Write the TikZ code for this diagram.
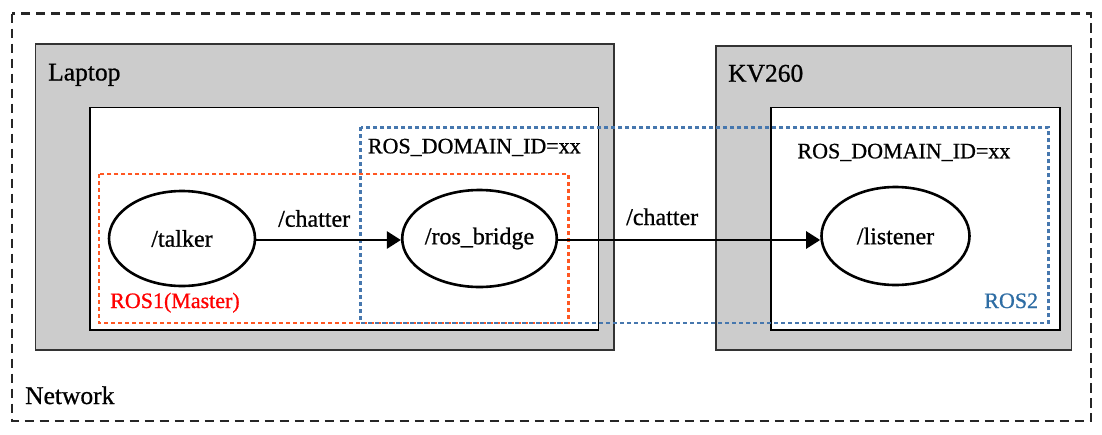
\documentclass[tikz,border=0pt]{standalone}
\usepackage{fontspec}
\setmainfont{Liberation Serif}[FakeBold=0.8]
\usetikzlibrary{shapes.geometric,arrows.meta}
\definecolor{boxgray}{HTML}{CCCCCC}
\definecolor{rosred}{HTML}{FF5722}
\definecolor{rosblue}{HTML}{4677AE}
\definecolor{ros2text}{HTML}{2E6DA4}
\begin{document}
\begin{tikzpicture}[x=1pt,y=-1pt,
  hostbox/.style={fill=boxgray,draw=black!80,line width=1.3pt},
  innerbox/.style={fill=white,draw=black,line width=1.5pt},
  netbox/.style={draw=black!85,line width=2.6pt,dash pattern=on 9.5pt off 5.5pt},
  redzone/.style={draw=rosred,line width=2.6pt,dash pattern=on 4pt off 3pt},
  bluezone/.style={draw=rosblue,line width=2.6pt,dash pattern=on 4pt off 3pt},
  rosnode/.style={ellipse,draw=black,fill=white,line width=2.6pt,inner sep=0pt,
     font=\fontsize{24}{28}\selectfont},
  bigtxt/.style={anchor=base west,inner sep=0pt,font=\fontsize{25.5}{30}\selectfont},
  midtxt/.style={anchor=base west,inner sep=0pt,font=\fontsize{22}{26}\selectfont},
  edgetxt/.style={anchor=base west,inner sep=0pt,font=\fontsize{24}{28}\selectfont},
  flow/.style={line width=2.6pt,-{Triangle[length=14pt,width=17pt]}}
]
\useasboundingbox (0,0) rectangle (1102,434);
% network
\draw[netbox] (12,13.5) rectangle (1091,421);
% hosts
\draw[hostbox] (35.5,44) rectangle (614,350);
\draw[innerbox] (90,107.5) rectangle (598.5,330);
\draw[hostbox] (716,46) rectangle (1071.5,350);
\draw[innerbox] (771,107.5) rectangle (1060,330);
% zones
\draw[redzone] (99,174) rectangle (568.7,323);
\draw[bluezone] (360.7,127.3) rectangle (1048.3,323);
% labels
\node[bigtxt] (laptop) at (48,80.5) {Laptop};
\node[bigtxt] (kv) at (728,81.7) {KV260};
\node[bigtxt] (network) at (25,404) {Network};
\node[midtxt] (dom1) at (367.7,153.3) {ROS\_DOMAIN\_ID=xx};
\node[midtxt] (dom2) at (797.3,158.3) {ROS\_DOMAIN\_ID=xx};
\node[midtxt,text=red] (ros1) at (110,308) {ROS1(Master)};
\node[midtxt,anchor=base east,text=ros2text] (ros2) at (1038.3,308) {ROS2};
% ros nodes
\node[rosnode,minimum width=146pt,minimum height=95pt] (talker) at (182,238.5) {/talker};
\node[rosnode,minimum width=147pt,minimum height=97pt] (bridge) at (479.5,238.5) {/ros\_bridge};
\node[rosnode,minimum width=148pt,minimum height=98pt] (listener) at (895.5,236) {/listener};
% topics
\draw[flow] ([yshift=-1.5pt]talker.east) -- ([yshift=-1.5pt]bridge.west);
\draw[flow] ([yshift=-1.5pt]bridge.east) -- ([yshift=-1.5pt]listener.west |- bridge.east);
\node[edgetxt] (chat1) at (278,226.7) {/chatter};
\node[edgetxt] (chat2) at (626,225) {/chatter};
\end{tikzpicture}
\end{document}
